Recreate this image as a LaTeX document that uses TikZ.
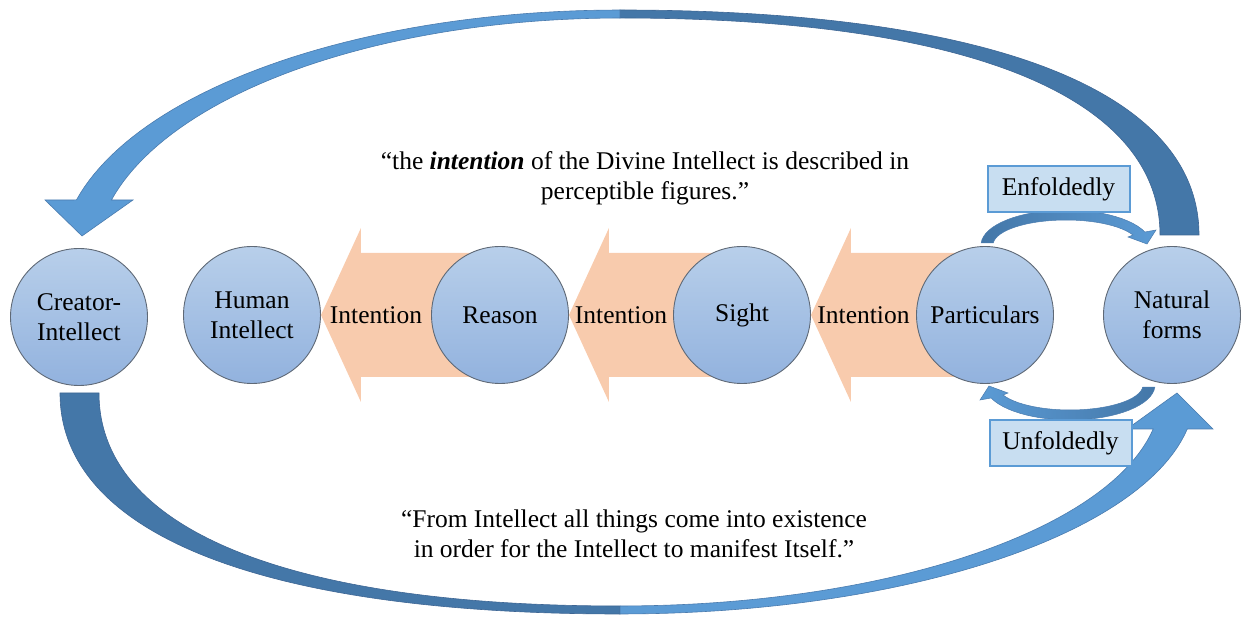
\documentclass[tikz,border=0pt]{standalone}
\usepackage{fontspec}
\setmainfont{LiberationSerif}[Extension=.ttf, UprightFont=*-Regular, BoldFont=*-Bold,
  ItalicFont=*-Italic, BoldItalicFont=*-BoldItalic]
\usetikzlibrary{calc,backgrounds}

\definecolor{bluelight}{RGB}{91,155,213}
\definecolor{bluedark}{RGB}{68,119,168}
\definecolor{blueedge}{RGB}{62,102,148}
\definecolor{orangefill}{RGB}{248,203,173}
\definecolor{circtop}{RGB}{184,207,234}
\definecolor{circbot}{RGB}{146,178,222}
\definecolor{circedge}{RGB}{95,105,118}
\definecolor{boxfill}{RGB}{200,222,241}

\tikzset{
  idea/.style={circle, minimum size=137pt, inner sep=0pt, draw=circedge, line width=0.9pt,
    top color=circtop, bottom color=circbot, align=center, font=\rmfamily\fontsize{25.5}{30}\selectfont},
  flowarrow/.style={fill=orangefill},
  flowlabel/.style={font=\rmfamily\fontsize{25.5}{30}\selectfont},
  tagbox/.style={draw=bluelight, line width=2pt, fill=boxfill, minimum width=142pt,
    minimum height=46pt, inner sep=0pt, font=\rmfamily\fontsize{25.5}{30}\selectfont},
  ribbonlight/.style={fill=bluelight, draw=blueedge!60!bluelight, line width=0.6pt},
  ribbondark/.style={fill=bluedark, draw=blueedge, line width=0.6pt},
  foldarrow/.style={draw=blueedge!60!bluelight, line width=0.5pt},
  quote/.style={font=\rmfamily\fontsize{25.5}{30}\selectfont, align=center},
}

\begin{document}
\begin{tikzpicture}[x=1pt,y=-1pt]
\useasboundingbox (0,0) rectangle (1243,617);

% circles of the chain
\node[idea] (cre) at (79,317) {Creator-\\Intellect};
\node[idea] (hum) at (252,315) {Human\\Intellect};
\node[idea] (rea) at (500,315) {Reason};
\node[idea] (sig) at (742,315) {Sight};
\node[idea] (par) at (985,315) {Particulars};
\node[idea] (nat) at (1172,315) {Natural\\forms};

% block arrows carrying the intention, behind the circles
\begin{scope}[on background layer]
  \foreach \from/\to in {rea/hum, sig/rea, par/sig}{
    \fill[flowarrow] (\to.east) -- ($(\to.east)+(40,-87)$) -- ($(\to.east)+(40,-62)$)
      -- ($(\from.center)+(0,-62)$) -- ($(\from.center)+(0,62)$)
      -- ($(\to.east)+(40,62)$) -- ($(\to.east)+(40,87)$) -- cycle;
  }
\end{scope}

\node[flowlabel] (i1) at ($(hum.east)!0.5!(rea.west)$) {Intention};
\node[flowlabel] (i2) at ($(rea.east)!0.5!(sig.west)$) {Intention};
\node[flowlabel] (i3) at ($(sig.east)!0.5!(par.west)$) {Intention};

% upper return ribbon: Natural forms back to Creator-Intellect
\path[ribbondark] (620,10) .. controls (991,10) and (1199,91) .. (1199,235)
  -- (1160,235) .. controls (1160,96) and (966,18) .. (620,18) -- cycle;
\path[ribbonlight] (620,10)
  -- plot[domain=90:166.1, samples=50] ({620+560*cos(\x)},{260-250*sin(\x)})
  -- (45,200) -- (82,236) -- (133,200)
  -- plot[domain=165.64:90, samples=50] ({620+525*cos(\x)},{260-242*sin(\x)}) -- cycle;

% lower ribbon: Creator-Intellect out to Natural forms
\path[ribbondark] (60,393) .. controls (60,534) and (262,614) .. (620,614)
  -- (620,606) .. controls (287,606) and (99,529) .. (99,393) -- cycle;
\path[ribbonlight] (620,614)
  -- plot[domain=90:9.37, samples=50] ({620+575*cos(\x)},{393+221*sin(\x)})
  -- (1213,429) -- (1177,393) -- (1127,429)
  -- plot[domain=9.73:90, samples=50] ({620+541*cos(\x)},{393+213*sin(\x)}) -- cycle;

% small arcs between Particulars and Natural forms
\path[foldarrow, left color=bluedark, right color=bluelight]
  plot[domain=176.7:21.8, samples=30] ({1066+85*cos(\x)},{245-35*sin(\x)})
  -- (1156,230) -- (1147,244) -- (1128,237)
  -- plot[domain=23.6:175.4, samples=30] ({1066+73*cos(\x)},{245-25*sin(\x)}) -- cycle;
\path[foldarrow, left color=bluelight, right color=bluedark]
  plot[domain=3.3:158.2, samples=30] ({1070+85*cos(\x)},{385+35*sin(\x)})
  -- (980,400) -- (989,386) -- (1008,393)
  -- plot[domain=156.4:4.6, samples=30] ({1070+73*cos(\x)},{385+25*sin(\x)}) -- cycle;

\node[tagbox] (enf) at (1058.5,189.5) {Enfoldedly};
\node[tagbox] (unf) at (1060.5,443.5) {Unfoldedly};

% quotations
\node[quote] (q1) at (645,178) {“the \textbf{\textit{intention}} of the Divine Intellect is described in\\perceptible figures.”};
\node[quote] (q2) at (634,534) {“From Intellect all things come into existence\\in order for the Intellect to manifest Itself.”};
\end{tikzpicture}
\end{document}
